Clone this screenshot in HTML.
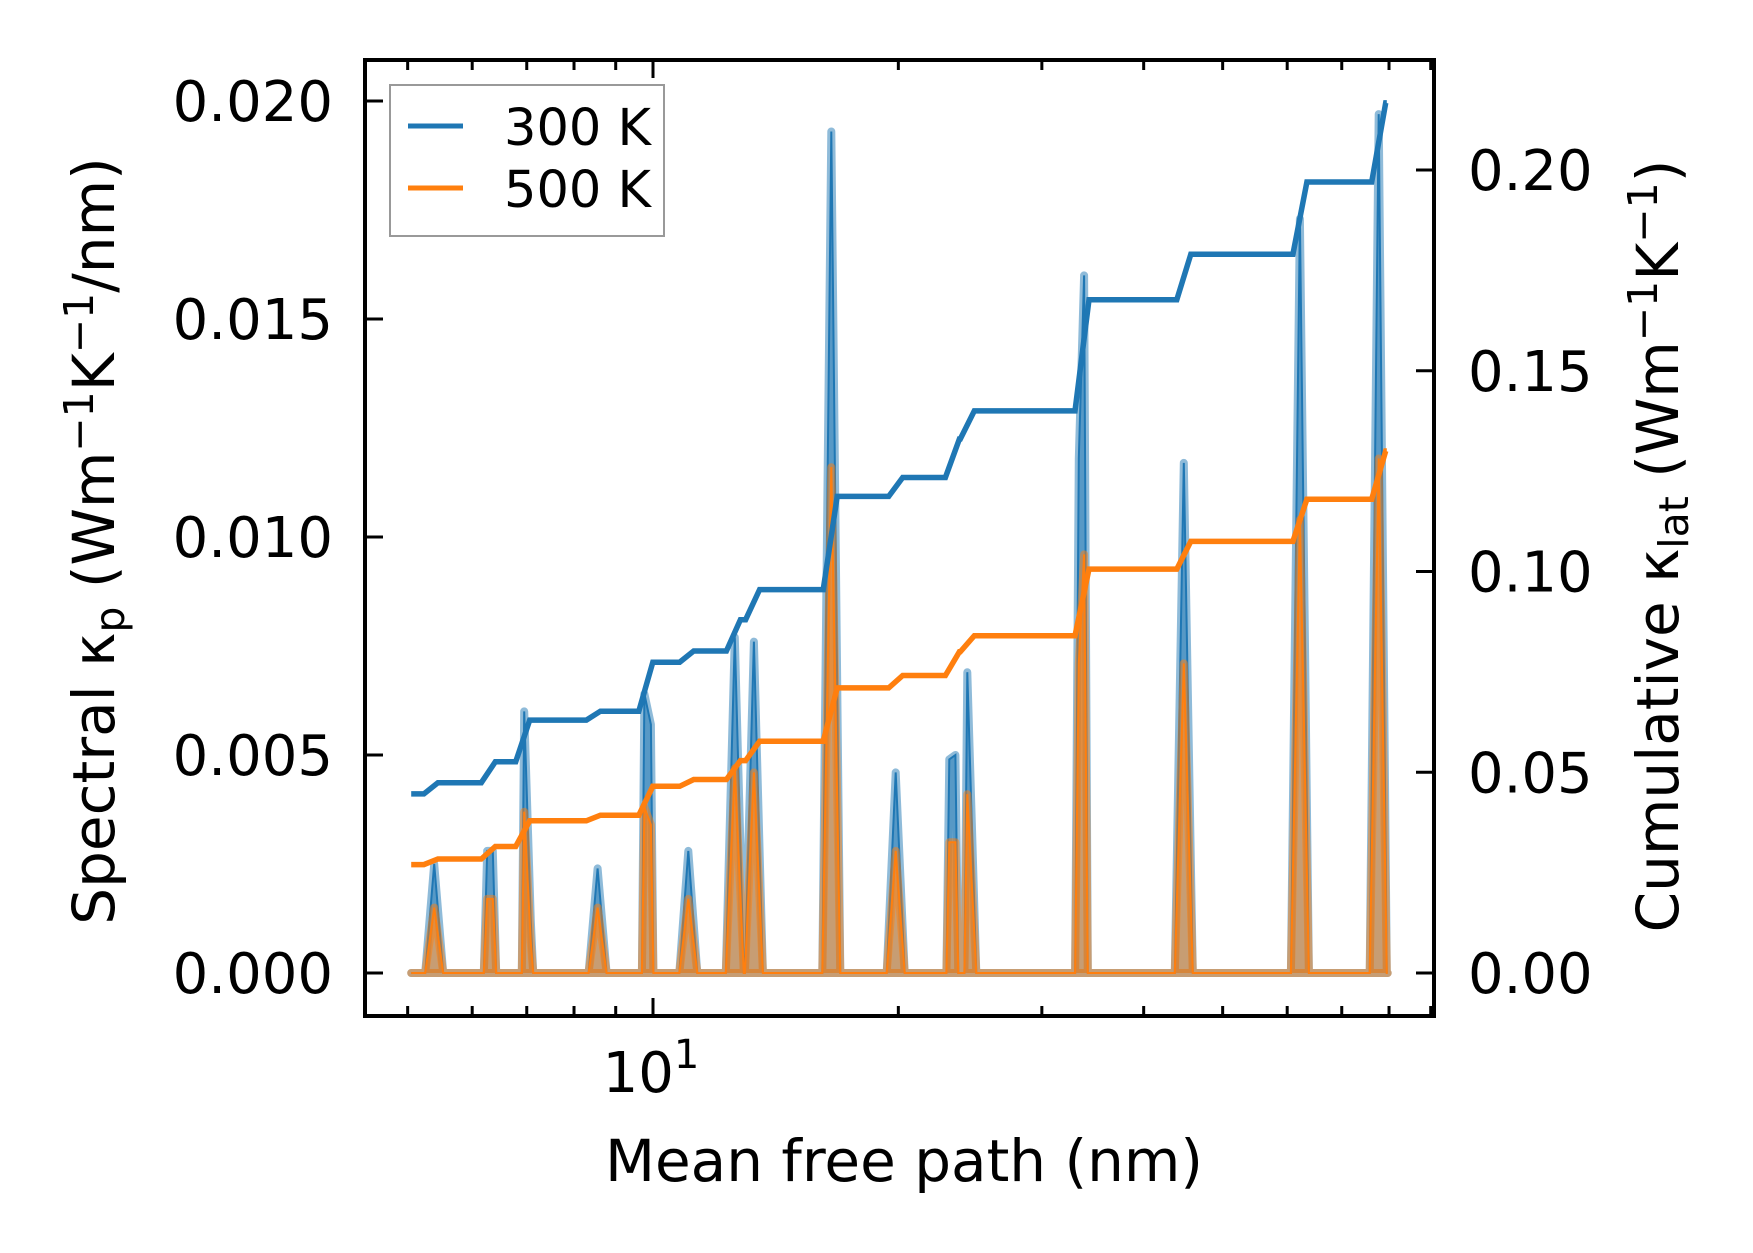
<!DOCTYPE html>
<html><head><meta charset="utf-8"><style>
html,body{margin:0;padding:0;background:#fff}
svg{display:block}
text{font-family:"DejaVu Sans","Liberation Sans",sans-serif;fill:#000}
</style></head><body>
<svg id="chart" width="1753" height="1253" viewBox="0 0 1753 1253" xmlns="http://www.w3.org/2000/svg">
<g id="spec"></g>
<g id="cum"></g>
<g id="axes"></g>
<rect x="365" y="60" width="1069" height="956" fill="none" stroke="#000" stroke-width="4"/>
<text transform="translate(114,541) rotate(-90)" text-anchor="middle" font-size="58">Spectral κ<tspan font-size="41" dy="10">p</tspan><tspan dy="-10"> (Wm</tspan><tspan font-size="41" dy="-21">−1</tspan><tspan dy="21">K</tspan><tspan font-size="41" dy="-21">−1</tspan><tspan dy="21">/nm)</tspan></text>
<text transform="translate(1678,546) rotate(-90)" text-anchor="middle" font-size="58">Cumulative κ<tspan font-size="41" dy="10">lat</tspan><tspan dy="-10"> (Wm</tspan><tspan font-size="41" dy="-21">−1</tspan><tspan dy="21">K</tspan><tspan font-size="41" dy="-21">−1</tspan><tspan dy="21">)</tspan></text>
<text x="904" y="1181" text-anchor="middle" font-size="58">Mean free path (nm)</text>
<g>
<rect x="390" y="85" width="274" height="151" fill="#fff" stroke="#999" stroke-width="2"/>
<line x1="408" y1="126" x2="463" y2="126" stroke="#1f77b4" stroke-width="5"/>
<text x="504" y="145" font-size="51">300 K</text>
<line x1="408" y1="188" x2="463" y2="188" stroke="#ff7f0e" stroke-width="5"/>
<text x="504" y="207" font-size="51">500 K</text>
</g>
</svg>
<script>
const peakMfp = [5.39, 6.26, 6.36, 6.95, 7.08, 8.55, 9.76, 9.94, 11.05, 12.6, 13.3, 16.55, 19.85, 23.1, 23.5, 24.3, 33.3, 33.8, 44.8, 62.2, 77.7];
const peak300 = [0.0025, 0.0028, 0.0028, 0.0060, 0.0012, 0.0024, 0.0064, 0.0057, 0.0028, 0.0077, 0.0076, 0.0193, 0.0046, 0.0049, 0.0050, 0.0069, 0.0118, 0.0160, 0.0117, 0.0173, 0.0197];
const peak500 = [0.0015, 0.0017, 0.0017, 0.0037, 0.0007, 0.0015, 0.0038, 0.0034, 0.0017, 0.0047, 0.0046, 0.0116, 0.0028, 0.0030, 0.0030, 0.0041, 0.0071, 0.0096, 0.0071, 0.0104, 0.0118];
const cumStart = [5.05, 0.0446, 0.027];
const stepMfp = [5.34, 6.28, 6.92, 8.45, 9.8, 11.0, 12.55, 13.25, 16.5, 19.85, 23.3, 24.3, 33.6, 44.8, 62.2, 77.7];
const cum300 = [0.0474, 0.0526, 0.063, 0.0652, 0.0774, 0.0802, 0.088, 0.0955, 0.1187, 0.1234, 0.133, 0.140, 0.1677, 0.179, 0.197, 0.2167];
const cum500 = [0.0284, 0.0315, 0.0379, 0.0393, 0.0465, 0.0482, 0.0529, 0.0577, 0.071, 0.0741, 0.080, 0.084, 0.1006, 0.1075, 0.118, 0.130];
const cumEnd = 79.5;
const leftTicks = [0, 0.005, 0.010, 0.015, 0.020];
const leftLabels = ["0.000","0.005","0.010","0.015","0.020"];
const rightTicks = [0, 0.05, 0.10, 0.15, 0.20];
const rightLabels = ["0.00","0.05","0.10","0.15","0.20"];
const minorX = [5,6,7,8,9,20,30,40,50,60,70,80,90];

const NS="http://www.w3.org/2000/svg";
const X0=365,X1=1434,Y0=60,Y1=1016;
function xs(v){return 653+815*(Math.log10(v)-1);}
function yl(v){return 973-v*43600;}
function yr(v){return 973-v*4015;}
function mk(tag,attrs,parent){const e=document.createElementNS(NS,tag);for(const k in attrs)e.setAttribute(k,attrs[k]);parent.appendChild(e);return e;}

const spec=document.getElementById('spec');
const HW=9;
function specPts(vals){
  let p=[[xs(5.05),yl(0)]];
  for(let i=0;i<peakMfp.length;i++){const x=xs(peakMfp[i]);p.push([x-HW,yl(0)],[x,yl(vals[i])],[x+HW,yl(0)]);}
  p.push([xs(cumEnd),yl(0)]);
  p.sort((a,b)=>a[0]-b[0]);
  return p;
}
[[peak300,'31,119,180','#1f77b4','spectral-300k'],[peak500,'255,127,14','#ff7f0e','spectral-500k']].forEach(s=>{
  const pts=specPts(s[0]);
  const str=pts.map(q=>q[0].toFixed(1)+','+q[1].toFixed(1)).join(' ');
  const a=mk('polygon',{points:str+' '+pts[pts.length-1][0].toFixed(1)+','+yl(0)+' '+pts[0][0].toFixed(1)+','+yl(0),fill:'rgba('+s[1]+',0.5)',stroke:'rgba('+s[1]+',0.5)','stroke-width':8,'stroke-linejoin':'round'},spec);
  
  
  const l=mk('polyline',{points:str,fill:'none',stroke:s[2],'stroke-width':2},spec);
  
  
});

const cum=document.getElementById('cum');
[[cum300,cumStart[1],'#1f77b4','cumulative-300k'],[cum500,cumStart[2],'#ff7f0e','cumulative-500k']].forEach(s=>{
  let pts=[[xs(cumStart[0]),yr(s[1])]];let prev=s[1];
  for(let i=0;i<stepMfp.length;i++){const x=xs(stepMfp[i]);pts.push([x-7,yr(prev)],[x+7,yr(s[0][i])]);prev=s[0][i];}
  pts.push([xs(cumEnd),yr(prev)]);
  const l=mk('polyline',{points:pts.map(q=>q[0].toFixed(1)+','+q[1].toFixed(1)).join(' '),fill:'none',stroke:s[2],'stroke-width':5.5},cum);
  
  
});

const ax=document.getElementById('axes');
leftTicks.forEach((v,i)=>{
  const y=yl(v);
  const t=mk('line',{x1:X0,y1:y,x2:X0+18,y2:y,stroke:'#000','stroke-width':3},ax);
  
  
  const tx=mk('text',{x:333,y:y+20,'text-anchor':'end','font-size':56},ax);tx.textContent=leftLabels[i];
  
  
});
rightTicks.forEach((v,i)=>{
  const y=yr(v);
  const t=mk('line',{x1:X1-18,y1:y,x2:X1,y2:y,stroke:'#000','stroke-width':3},ax);
  
  
  const tx=mk('text',{x:1468,y:y+20,'font-size':56},ax);tx.textContent=rightLabels[i];
  
  
});
[Y1,Y0].forEach((yy,j)=>{
  const d=j===0?-1:1;
  minorX.forEach(v=>{const x=xs(v);if(x>X0&&x<X1){
    const t=mk('line',{x1:x,y1:yy,x2:x,y2:yy+d*10,stroke:'#000','stroke-width':3},ax);
    
    }});
  const t=mk('line',{x1:xs(10),y1:yy,x2:xs(10),y2:yy+d*18,stroke:'#000','stroke-width':3},ax);
  
  
});
const xl=mk('text',{x:xs(10)-2,y:1092,'text-anchor':'middle','font-size':56},ax);


xl.innerHTML='10<tspan font-size="40" dy="-24">1</tspan>';
</script>
</body></html>
